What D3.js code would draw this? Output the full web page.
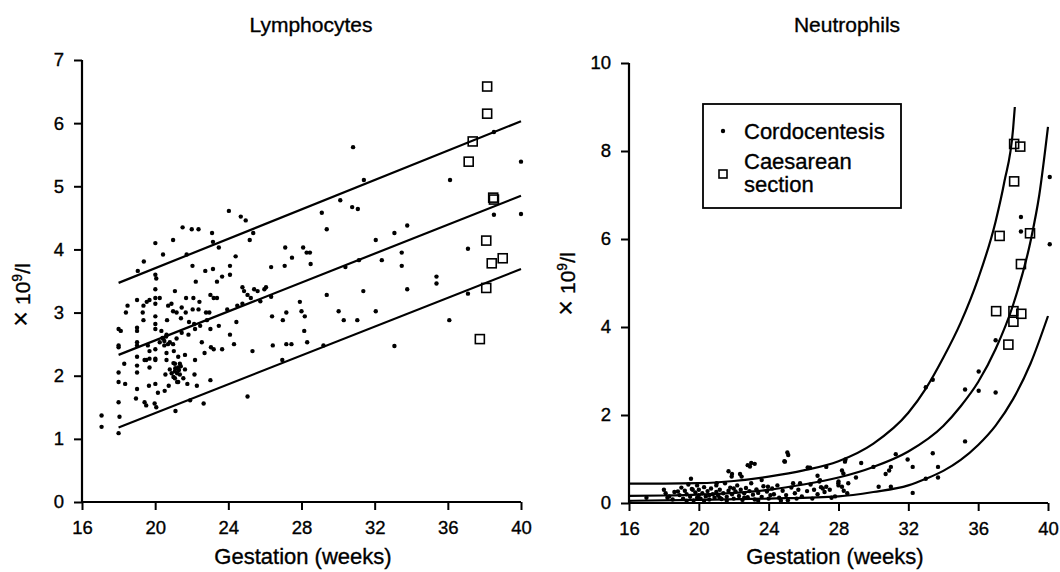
<!DOCTYPE html>
<html><head><meta charset="utf-8">
<script src="https://cdn.jsdelivr.net/npm/d3@7"></script>
<style>
body{margin:0;background:#fff;}
svg{display:block;font-family:"Liberation Sans",Arial,sans-serif;}
svg text{fill:#000;stroke:#000;stroke-width:0.35px;}
</style></head><body>
<svg id="c" width="1060" height="572"></svg>
<script>
// ---------- DATA ----------
const xTicks = [16,20,24,28,32,36,40];
const lymphTicks = [0,1,2,3,4,5,6,7];
const neutTicks = [0,2,4,6,8,10];

const lymphCordo = [
[17.07,1.37],[17.07,1.19],
[18.0,1.09],[18.0,1.58],[18.0,1.90],[18.0,2.05],[18.0,2.45],[18.0,2.48],[18.0,2.74],[18.05,1.35],
[18.12,2.71],[18.31,2.19],[18.36,1.87],[18.40,3.0],[18.49,3.11],
[19.05,3.66],[19.01,3.2],[19.01,2.76],[19.01,2.71],[19.01,2.53],[19.01,2.48],[19.01,2.30],[19.01,2.16],[19.01,2.05],[19.01,1.79],[18.95,1.64],
[19.38,3.81],[19.32,3.0],[19.36,2.88],[19.42,2.25],[19.42,1.58],[19.51,1.53],[19.51,2.25],[19.36,3.11],[19.54,3.17],[19.60,2.48],[19.66,1.84],[19.69,2.27],[19.69,2.39],[19.69,3.2],[19.69,2.13],
[20.01,4.1],[20.01,3.6],[20.06,3.54],[20.01,3.37],[20.01,3.23],[20.01,3.14],[20.01,2.94],[20.01,2.82],[20.01,2.74],[20.01,2.42],[20.01,2.27],[20.01,2.25],[20.01,1.87],[19.97,1.56],[20.06,1.5],[20.15,1.73],[20.25,3.23],[20.25,2.53],[20.34,2.71],[20.43,2.59],[20.43,3.92],
[20.52,1.76],[20.56,2.02],[20.62,2.25],[20.62,2.36],[20.62,2.65],[20.65,2.88],[20.71,3.11],[20.74,1.84],[20.80,2.53],[20.80,2.1],[20.89,3.14],[20.98,4.15],[20.98,3.02],[20.98,2.5],[21.02,2.39],[21.08,2.19],[21.08,2.07],[21.08,1.96],[21.11,1.44],[21.08,3.34],
[21.17,2.59],[21.17,3.0],[21.26,2.3],[21.26,2.13],[21.26,1.9],[21.35,2.19],[21.35,2.02],[21.41,2.91],[21.45,2.68],[21.45,3.08],[21.50,4.35],[21.54,1.96],[21.63,2.33],[21.63,2.1],[21.67,3.0],[21.69,3.23],[21.72,3.92],[21.76,1.87],[21.82,2.65],[21.85,2.85],[21.91,1.61],[22.0,4.32],[22.04,3.74],[22.05,3.05],[22.09,3.23],[22.13,2.82],[22.15,2.02],[22.18,2.74],[22.18,2.25],[22.22,3.49],[22.28,1.84],[22.37,4.32],[22.37,3.05],[22.42,3.17],[22.46,2.79],[22.55,2.53],[22.65,1.56],[22.70,2.36],[22.74,3.66],[22.78,3.0],[22.83,2.88],[22.96,3.0],[23.02,1.93],[23.02,3.28],[23.02,2.74],[23.05,2.45],[23.11,4.26],[23.16,3.69],[23.16,4.12],[23.20,3.23],[23.20,2.42],[23.38,3.49],[23.38,3.23],[23.48,4.03],[23.48,2.79],[23.66,3.57],[23.66,2.42],[23.94,3.05],[24.03,4.61],[24.09,3.74],[24.09,3.6],[24.09,2.65],[24.31,2.5],[24.40,3.89],[24.44,2.85],[24.49,3.11],[24.68,4.52],[24.77,3.4],[24.77,3.14],[24.86,3.34],[24.95,4.46],[25.05,3.28],[25.05,1.67],[25.17,4.15],[25.23,3.23],[25.32,2.39],[25.36,4.26],[25.41,3.37],[25.60,3.34],[25.75,3.18],[25.97,3.37],[26.06,3.4],
[26.34,3.72],[26.34,3.25],[26.39,2.94],[26.43,2.48],[26.95,2.25],[27.08,3.74],[26.98,2.88],[27.11,4.03],[27.17,3.0],[27.17,2.5],[27.45,2.5],[27.48,3.87],[27.91,3.17],[28.0,3.02],[28.09,4.03],[28.15,2.71],[28.18,2.94],[28.28,3.95],[28.31,2.53],[28.46,3.95],[28.50,3.77],
[29.11,4.58],[29.20,2.48],[29.38,4.32],[29.38,3.28],[30.03,3.02],[30.12,4.78],[30.31,2.88],[30.40,3.72],[30.77,4.67],[30.82,5.62],[31.05,2.88],[31.08,4.64],[31.14,3.83],[31.38,3.34],[31.41,5.1],[32.06,4.15],[32.06,3.02],[32.39,3.83],[33.08,4.26],[33.08,2.47],[33.48,3.95],[33.48,3.74],[33.78,4.38],[33.78,3.37],
[35.38,3.57],[35.38,3.46],[36.12,5.1],[36.08,2.88],[37.10,4.01],[37.10,3.3],[38.52,4.55],[38.52,5.86],[40.0,5.39],[40.0,4.56],
[21.0,2.2],[21.1,2.12],[21.2,2.04],[21.3,2.09],[20.9,2.04],[21.4,2.15],[21.2,1.9],[21.0,1.98],
[20.4,2.6],[20.5,2.55],[20.6,2.62],[20.7,2.5],[20.5,2.48]
];
const lymphCaes = [[38.15,6.58],[38.15,6.15],[37.36,5.71],[37.14,5.39],[38.52,4.79],[38.48,4.82],[38.1,4.14],[38.4,3.78],[39.0,3.86],[38.1,3.39],[37.75,2.58]];
const lymphUpper = [[18,3.47],[40,6.03]];
const lymphMid = [[18,2.33],[40,4.85]];
const lymphLower = [[18,1.18],[40,3.69]];

const neutCordo = [
[40.1,7.41],[40.1,5.88],[38.45,6.5],[38.45,6.17],[37.0,3.7],[36.03,2.99],[36.03,2.55],[35.25,2.58],[37.0,2.51],[33.4,2.8],[33.0,2.63],[35.25,1.4],[33.4,1.13],[33.7,0.82],[33.7,0.58],[33.0,0.55],[32.25,0.23],[32.25,0.82],[31.96,0.99],[31.28,1.11],[30.9,0.74],[30.7,0.66],[31.0,0.82],[30.3,0.37],[30.0,0.82],[31.0,0.37],[29.3,0.91],[29.0,0.58],[28.4,0.99],[28.2,0.74],[28.0,0.49],[28.2,0.37],[27.3,0.82],[26.24,0.81],[26.8,0.62],[26.9,0.49],[27.1,0.33],[25.07,1.15],[24.9,0.95],[23.0,0.91],[22.8,0.86],[22.36,0.66],[21.7,0.72],[21.9,0.66],[19.55,0.55],
[19.65,0.3],[21.02,0.45],[21.88,0.6],[22.45,0.6],[22.93,0.83],[23.2,0.89],[23.6,0.52],[23.96,0.37],[24.93,0.94],[25.12,1.09],[25.4,0.45],[25.8,0.45],[26.37,0.8],[26.94,0.52],[27.3,0.37],[27.99,0.45],[28.37,0.94],[28.28,0.67],[28.56,0.45],
[17.0,0.12],[18.0,0.3],[18.1,0.22],[18.3,0.15],[18.5,0.08],[18.6,0.25],[18.9,0.18],[19.0,0.35],[19.1,0.1],[19.2,0.28],[19.3,0.2],[19.4,0.42],[19.5,0.14],[19.6,0.32],[19.7,0.06],[19.8,0.24],[19.9,0.4],[20.0,0.18],[20.0,0.3],[20.1,0.1],[20.2,0.22],[20.3,0.36],[20.4,0.15],[20.5,0.27],[20.6,0.08],[20.7,0.33],[20.8,0.2],[20.9,0.12],[21.0,0.4],[21.0,0.25],[21.1,0.17],[21.2,0.3],[21.3,0.09],[21.4,0.22],[21.5,0.45],[21.6,0.14],[21.7,0.28],[21.8,0.35],[21.9,0.2],[22.0,0.1],[22.1,0.26],[22.2,0.4],[22.3,0.16],[22.4,0.3],[22.5,0.07],[22.6,0.22],[22.7,0.34],[22.8,0.13],[22.9,0.27],[23.0,0.45],[23.1,0.19],[23.2,0.08],[23.3,0.31],[23.4,0.23],[23.6,0.14],[23.7,0.38],[23.9,0.26],[24.0,0.1],[24.2,0.33],[24.3,0.2],[24.5,0.4],[24.6,0.12],[24.8,0.28],[25.0,0.18],[25.1,0.06],[25.3,0.35],[25.5,0.22],[25.7,0.3],[25.9,0.15],[26.2,0.27],[26.4,0.42],[26.5,0.1],[26.8,0.2],[27.0,0.36],[27.2,0.25],[27.5,0.3],[27.8,0.15],[28.0,0.4],[28.3,0.28],[28.5,0.22],
[18.2,0.12],[18.8,0.26],[19.3,0.05],[19.9,0.12],[20.3,0.05],[20.6,0.18],[21.2,0.12],[21.6,0.05],[22.0,0.33],[22.6,0.12],[23.4,0.05],[24.1,0.18],[24.7,0.05],[25.6,0.1],[26.6,0.3],[27.6,0.12]
];
const neutCaes = [[38.06,8.16],[38.41,8.1],[38.06,7.31],[37.23,6.07],[38.97,6.13],[38.45,5.43],[37.03,4.36],[38.02,4.36],[38.47,4.3],[38.02,4.12],[37.73,3.6]];
const neutUpper = [[16,0.44],[18,0.44],[20,0.45],[22,0.5],[24,0.6],[26,0.74],[28,0.95],[30,1.35],[32,2.05],[33,2.6],[34,3.3],[35,4.1],[36,5.1],[37,6.4],[37.5,7.3],[38,8.5],[38.1,9.0]];
const neutMid = [[16,0.16],[18,0.17],[20,0.19],[22,0.23],[24,0.3],[26,0.42],[28,0.58],[30,0.82],[32,1.17],[34,1.75],[35,2.2],[36,2.75],[37,3.5],[38,4.5],[39,5.95],[39.5,7.0],[40,8.55]];
const neutLower = [[16,0.05],[20,0.07],[24,0.1],[28,0.15],[30,0.25],[32,0.4],[33,0.55],[34,0.73],[35,0.98],[36,1.32],[37,1.76],[38,2.36],[39,3.17],[40,4.25]];

const titles = ["Lymphocytes","Neutrophils"];
const xLabel = "Gestation (weeks)";
const legendLabels = ["Cordocentesis","Caesarean","section"];

// ---------- DRAW ----------
const svg = d3.select("#c");
svg.append("rect").attr("width",1060).attr("height",572).attr("fill","#fff").attr("stroke","none");

function panel(cfg){
  const x = d3.scaleLinear().domain([16,40]).range(cfg.xr);
  const y = d3.scaleLinear().domain(cfg.yd).range(cfg.yr);
  const g = svg.append("g");
  const xa = g.append("g").attr("transform",`translate(0,${cfg.yr[0]})`)
    .call(d3.axisBottom(x).tickValues(xTicks).tickSize(8).tickPadding(11).tickFormat(d3.format("d")));
  const ya = g.append("g").attr("transform",`translate(${cfg.xr[0]},0)`)
    .call(d3.axisLeft(y).tickValues(cfg.yt).tickSize(8).tickPadding(10).tickFormat(d3.format("d")));
  [xa,ya].forEach(a=>{
    a.select(".domain").attr("stroke","#000").attr("stroke-width",2.2);
    a.selectAll(".tick line").attr("stroke","#000").attr("stroke-width",2);
    a.selectAll("text").style("font-size","18.5px").style("font-family","'Liberation Sans',Arial,sans-serif");
  });
  xa.select(".domain").attr("d",`M${cfg.xr[0]},0H${cfg.xr[1]}`);
  ya.select(".domain").attr("d",`M0,${cfg.yr[0]}V${cfg.yr[1]}`);

  const line = d3.line().x(d=>x(d[0])).y(d=>y(d[1])).curve(cfg.curve);
  cfg.lines.forEach(l=>{
    g.append("path").datum(l).attr("fill","none").attr("stroke","#000").attr("stroke-width",2.2)
      .attr("d", line);
  });
  g.selectAll("circle.d").data(cfg.dots).join("circle").attr("class","d")
    .attr("cx",d=>x(d[0])).attr("cy",d=>y(d[1])).attr("r",2.2).attr("fill","#000");
  g.selectAll("rect.s").data(cfg.squares).join("rect").attr("class","s")
    .attr("x",d=>x(d[0])-4.5).attr("y",d=>y(d[1])-4.5).attr("width",9).attr("height",9)
    .attr("fill","none").attr("stroke","#000").attr("stroke-width",1.6);

  g.append("text").attr("x",cfg.titleX).attr("y",32).attr("text-anchor","middle")
    .style("font-size","21px").text(cfg.title);
  g.append("text").attr("x",cfg.xlabX).attr("y",564).attr("text-anchor","middle")
    .style("font-size","22px").text(xLabel);
  const yl = g.append("text").attr("transform",`translate(${cfg.ylabX},${cfg.ylabY}) rotate(-90)`)
    .attr("text-anchor","middle").style("font-size","21px");
  yl.append("tspan").style("font-size","27px").style("stroke-width","0.2px").text("×");
  yl.append("tspan").text(" 10");
  yl.append("tspan").attr("dy",-8).style("font-size","14px").text("9");
  yl.append("tspan").attr("dy",8).text("/l");
  return {x,y,g};
}

panel({xr:[82,521], yd:[0,7], yr:[502,60], yt:lymphTicks,
  lines:[lymphUpper,lymphMid,lymphLower], curve:d3.curveLinear,
  dots:lymphCordo, squares:lymphCaes, title:titles[0], titleX:311, xlabX:303, ylabX:30, ylabY:295});

panel({xr:[629,1048], yd:[0,10], yr:[503,63], yt:neutTicks,
  lines:[neutUpper,neutMid,neutLower], curve:d3.curveMonotoneX,
  dots:neutCordo, squares:neutCaes, title:titles[1], titleX:847, xlabX:835, ylabX:575, ylabY:284});

// legend
const lg = svg.append("g");
lg.append("rect").attr("x",703).attr("y",104).attr("width",198).attr("height",104)
  .attr("fill","#fff").attr("stroke","#000").attr("stroke-width",1.8);
lg.append("circle").attr("cx",723).attr("cy",131).attr("r",2.2).attr("fill","#000");
lg.append("rect").attr("x",719).attr("y",170).attr("width",8).attr("height",8)
  .attr("fill","none").attr("stroke","#000").attr("stroke-width",1.6);
lg.append("text").attr("x",744).attr("y",139).style("font-size","22px").text(legendLabels[0]);
lg.append("text").attr("x",744).attr("y",169).style("font-size","22px").text(legendLabels[1]);
lg.append("text").attr("x",744).attr("y",192).style("font-size","22px").text(legendLabels[2]);
</script>
</body></html>
